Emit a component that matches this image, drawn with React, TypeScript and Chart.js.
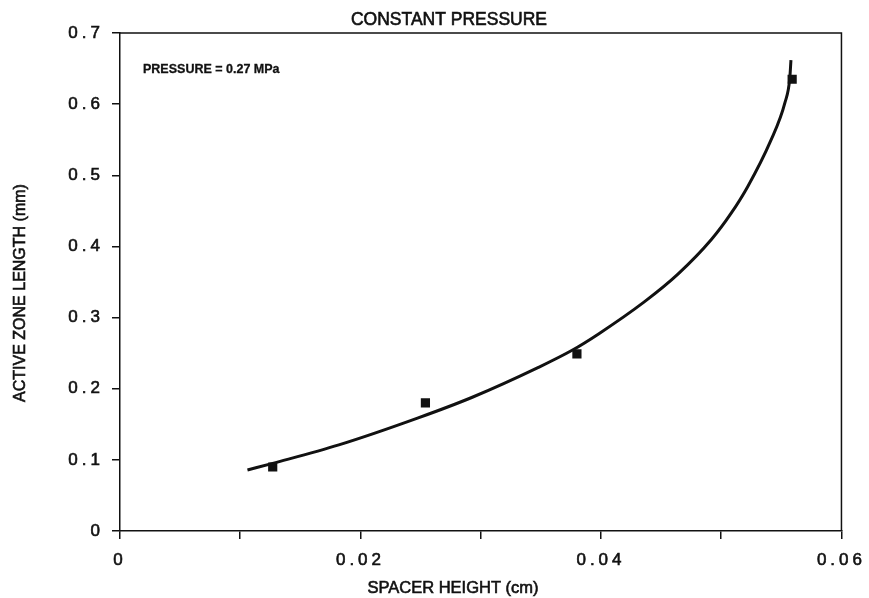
import React, { useEffect, useRef } from 'react';
import { Chart, registerables } from 'chart.js';

Chart.register(...registerables);

const chartTitle = 'CONSTANT PRESSURE';
const xAxisTitle = 'SPACER HEIGHT (cm)';
const yAxisTitle = 'ACTIVE ZONE LENGTH (mm)';
const annotationText = 'PRESSURE = 0.27 MPa';

// measured points (squares)
const measuredX = [0.0127, 0.0254, 0.038, 0.0559];
const measuredY = [0.09, 0.18, 0.249, 0.635];

// fitted curve
const fitX = [0.0106, 0.0127, 0.0182, 0.0248, 0.0293, 0.0348, 0.0376, 0.0398, 0.0436, 0.0464, 0.0492, 0.0508, 0.0522, 0.0541, 0.0553, 0.0557, 0.0558];
const fitY = [0.0857, 0.0951, 0.121, 0.159, 0.188, 0.23, 0.254, 0.277, 0.322, 0.361, 0.41, 0.446, 0.484, 0.548, 0.602, 0.636, 0.662];

const xTickValues = [0, 0.01, 0.02, 0.03, 0.04, 0.05, 0.06];
const xTickLabels = ['0', '', '0.02', '', '0.04', '', '0.06'];
const yTickValues = [0, 0.1, 0.2, 0.3, 0.4, 0.5, 0.6, 0.7];
const yTickLabels = ['0', '0.1', '0.2', '0.3', '0.4', '0.5', '0.6', '0.7'];

const INK = '#111111';
const FONT = '"Liberation Sans", Arial, Helvetica, sans-serif';

const decorPlugin = {
  id: 'decor',
  beforeDraw(chart: any) {
    (chart.ctx as any).letterSpacing = '4px';
  },
  beforeDatasetsDraw(chart: any) {
    const ctx = chart.ctx;
    (ctx as any).letterSpacing = '0px';
    const { left, top, right, bottom } = chart.chartArea;
    ctx.save();
    ctx.strokeStyle = INK;
    ctx.lineWidth = 1.5;
    ctx.beginPath();
    ctx.moveTo(left, top);
    ctx.lineTo(right, top);
    ctx.lineTo(right, bottom);
    ctx.stroke();
    ctx.restore();
  },
  afterDraw(chart: any) {
    const ctx = chart.ctx;
    const { left, top } = chart.chartArea;
    const put = (t: string, x: number, y: number) => {
      ctx.fillText(t, x, y);
      ctx.strokeText(t, x, y);
    };
    ctx.save();
    (ctx as any).letterSpacing = '0px';
    ctx.fillStyle = INK;
    ctx.strokeStyle = INK;
    ctx.lineWidth = 0.6;
    ctx.textBaseline = 'middle';
    ctx.textAlign = 'center';
    ctx.font = `17.5px ${FONT}`;
    put(chartTitle, left + 329, 20);
    ctx.font = `16.5px ${FONT}`;
    put(xAxisTitle, left + 333, 588);
    ctx.save();
    ctx.translate(21, top + 260);
    ctx.rotate(-Math.PI / 2);
    ctx.font = `16px ${FONT}`;
    put(yAxisTitle, 0, 0);
    ctx.restore();
    ctx.textAlign = 'left';
    ctx.lineWidth = 0.3;
    ctx.font = `bold 12.5px ${FONT}`;
    put(annotationText, left + 23, top + 37);
    ctx.restore();
  },
};

export default function App() {
  const ref = useRef<HTMLCanvasElement | null>(null);

  useEffect(() => {
    if (!ref.current) return;
    const chart = new Chart(ref.current, {
      type: 'scatter',
      data: {
        datasets: [
          {
            label: 'fit',
            data: fitX.map((x, i) => ({ x, y: fitY[i] })),
            showLine: true,
            borderColor: INK,
            borderWidth: 3,
            pointRadius: 0,
            cubicInterpolationMode: 'monotone',
            fill: false,
          } as any,
          {
            label: 'measured',
            data: measuredX.map((x, i) => ({ x, y: measuredY[i] })),
            showLine: false,
            pointStyle: 'rect',
            pointRadius: 6.5,
            backgroundColor: INK,
            borderColor: INK,
            borderWidth: 0,
          } as any,
        ],
      },
      plugins: [decorPlugin],
      options: {
        animation: false,
        responsive: false,
        devicePixelRatio: 1,
        layout: { padding: { top: 33, right: 25, left: 0, bottom: 0 } },
        plugins: {
          legend: { display: false },
          tooltip: { enabled: false },
          title: { display: false },
        },
        scales: {
          x: {
            type: 'linear',
            min: 0,
            max: 0.06,
            afterBuildTicks: (s: any) => {
              s.ticks = xTickValues.map((v) => ({ value: v }));
            },
            afterFit: (s: any) => {
              s.height = 67;
            },
            ticks: {
              autoSkip: false,
              maxRotation: 0,
              padding: 11,
              color: INK,
              textStrokeColor: INK,
              textStrokeWidth: 0.6,
              font: { size: 17, family: FONT },
              callback: (_v: any, i: number) => xTickLabels[i],
            },
            grid: {
              drawOnChartArea: false,
              drawTicks: true,
              tickLength: 8,
              color: INK,
              lineWidth: 1.5,
            },
            border: { display: true, color: INK, width: 1.5 },
          },
          y: {
            type: 'linear',
            min: 0,
            max: 0.7,
            afterBuildTicks: (s: any) => {
              s.ticks = yTickValues.map((v) => ({ value: v }));
            },
            afterFit: (s: any) => {
              s.width = 120;
            },
            ticks: {
              autoSkip: false,
              padding: 8,
              color: INK,
              textStrokeColor: INK,
              textStrokeWidth: 0.6,
              font: { size: 17, family: FONT },
              callback: (_v: any, i: number) => yTickLabels[i],
            },
            grid: {
              drawOnChartArea: false,
              drawTicks: true,
              tickLength: 8,
              color: INK,
              lineWidth: 1.5,
            },
            border: { display: true, color: INK, width: 1.5 },
          },
        },
      } as any,
    });
    return () => chart.destroy();
  }, []);

  return (
    <div style={{ position: 'absolute', left: 0, top: 0, width: 869, height: 598, background: '#fff' }}>
      <canvas ref={ref} width={869} height={598} />
    </div>
  );
}
